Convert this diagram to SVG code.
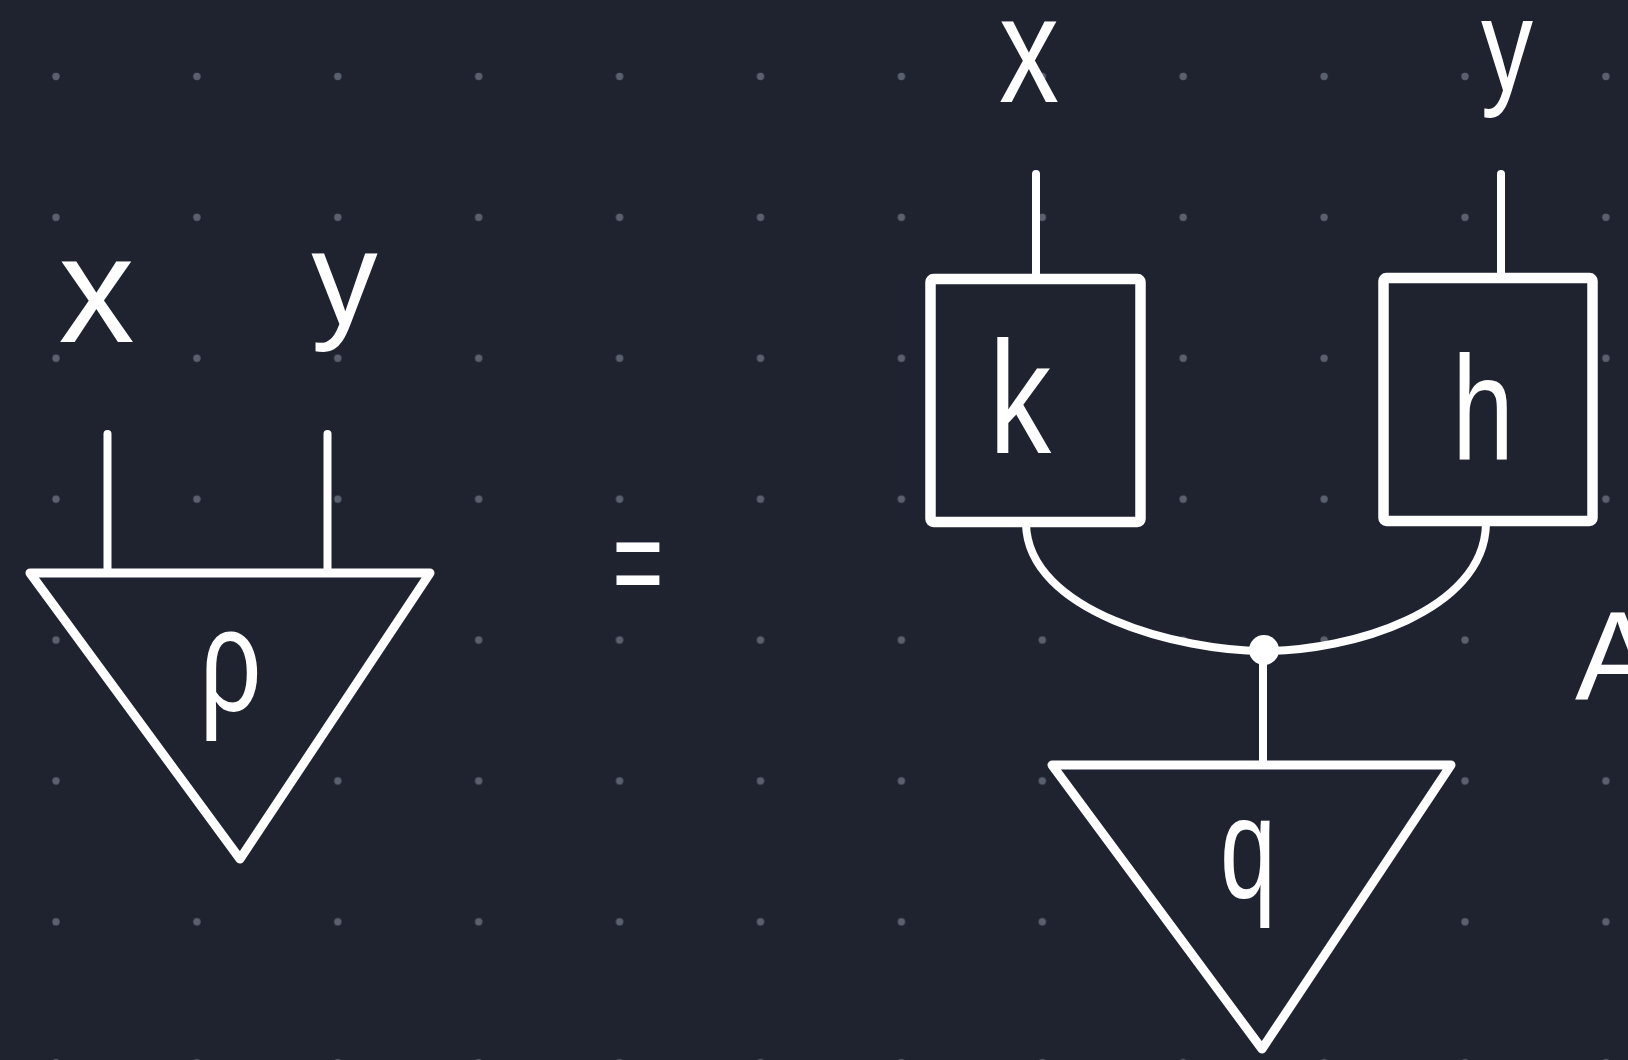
<svg xmlns="http://www.w3.org/2000/svg" width="1628" height="1060" viewBox="0 0 1628 1060">
  <defs>
    <pattern id="grid" x="0" y="0" width="140.9" height="140.9" patternUnits="userSpaceOnUse">
      <circle cx="56" cy="76.5" r="3.7" fill="#5a606d"/>
    </pattern>
    <style>
      .wire { fill: none; stroke: #ffffff; stroke-width: 8; stroke-linecap: round; stroke-linejoin: round; }
      .shape { fill: #1f2330; stroke: #ffffff; stroke-width: 9; stroke-linejoin: round; }
      .box { fill: #1f2330; stroke: #ffffff; stroke-width: 10.5; stroke-linejoin: round; }
      .lbl { fill: #ffffff; font-family: "Liberation Sans", "DejaVu Sans", sans-serif; text-anchor: middle; }
    </style>
  </defs>
  <rect width="1628" height="1060" fill="#1f2330"/>
  <rect width="1628" height="1060" fill="url(#grid)"/>

  <g id="connectors">
    <line class="wire" x1="107.5" y1="434" x2="107.5" y2="573"/>
    <line class="wire" x1="327.5" y1="434" x2="327.5" y2="573"/>
    <line class="wire" x1="1036" y1="174" x2="1036" y2="279"/>
    <line class="wire" x1="1501" y1="174" x2="1501" y2="279"/>
    <path class="wire" d="M1026,524 C1028,612 1180,651 1264,651 C1350,651 1484,612 1486,524"/>
    <line class="wire" x1="1263" y1="651" x2="1263" y2="765"/>
  </g>

  <g id="label-x-left"><text class="lbl" x="96.5" y="342" font-size="152">x</text></g>
  <g id="label-y-left"><text class="lbl" x="344.5" y="324" font-size="133">y</text></g>

  <g id="node-rho">
    <polygon class="shape" points="30,573 430,573 240,859"/>
    <text class="lbl" x="230.5" y="711" font-size="147" textLength="62" lengthAdjust="spacingAndGlyphs">ρ</text>
  </g>

  <g id="equals"><text class="lbl" x="0" y="0" font-size="160" transform="translate(638,607) scale(0.55,0.82)">=</text></g>

  <g id="label-x-right"><text class="lbl" x="1029" y="102" font-size="152" textLength="60" lengthAdjust="spacingAndGlyphs">x</text></g>
  <g id="label-y-right"><text class="lbl" x="1507" y="91" font-size="132" textLength="52" lengthAdjust="spacingAndGlyphs">y</text></g>

  <g id="node-k">
    <rect class="box" x="930.5" y="279" width="210" height="243" rx="3"/>
    <text class="lbl" x="1020" y="453" font-size="160" textLength="62" lengthAdjust="spacingAndGlyphs">k</text>
  </g>

  <g id="node-h">
    <rect class="box" x="1383.5" y="278" width="209" height="243" rx="3"/>
    <text class="lbl" x="1483" y="460" font-size="148" textLength="62" lengthAdjust="spacingAndGlyphs">h</text>
  </g>

  <g id="junction"><circle cx="1264" cy="650" r="15" fill="#ffffff"/></g>

  <g id="node-q">
    <polygon class="shape" points="1052,765 1451,765 1262,1049"/>
    <text class="lbl" x="1248" y="898" font-size="144" textLength="56" lengthAdjust="spacingAndGlyphs">q</text>
  </g>

  <g id="label-A"><text class="lbl" x="1575" y="699" font-size="127" style="text-anchor:start">A</text></g>
</svg>
